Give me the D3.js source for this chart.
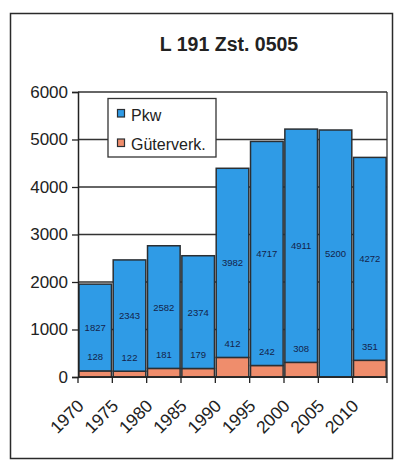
<!DOCTYPE html>
<html><head><meta charset="utf-8">
<script src="https://cdn.jsdelivr.net/npm/d3@7"></script>
<style>body{margin:0;background:#fff}svg{display:block}text{font-family:"Liberation Sans",Arial,sans-serif}</style>
</head><body><svg id="c" width="397" height="462"></svg>
<script>
const years = ["1970","1975","1980","1985","1990","1995","2000","2005","2010"];
const pkw = [1827,2343,2582,2374,3982,4717,4911,5200,4272];
const gueter = [128,122,181,179,412,242,308,0,351];
const yTicks = [0,1000,2000,3000,4000,5000,6000];
const seriesNames = ["Pkw","Güterverk."];
const colors = ["#2f9be6","#ef8d6c"];
const title = "L 191 Zst. 0505";

const svg = d3.select("#c");
const L=78,R=387,T=92,B=377;
svg.append("rect").attr("x",0).attr("y",0).attr("width",397).attr("height",462).attr("fill","#fff");
svg.append("rect").attr("x",10.5).attr("y",13.5).attr("width",382).attr("height",445)
  .attr("fill","none").attr("stroke","#2a2a2a").attr("stroke-width",1.5);

svg.append("text").attr("x",229).attr("y",51).attr("text-anchor","middle")
  .attr("font-size",19.5).attr("font-weight","bold").attr("fill","#222").text(title);

const x = d3.scaleBand().domain(years).range([L,R]).paddingInner(0.05).paddingOuter(0.025);
const y = d3.scaleLinear().domain([0,6000]).range([B,T]);

// gridlines
svg.append("g").selectAll("line").data(yTicks).join("line")
  .attr("x1",L).attr("x2",R).attr("y1",d=>y(d)).attr("y2",d=>y(d))
  .attr("stroke","#333").attr("stroke-width",1.3);
// right border
svg.append("line").attr("x1",R).attr("x2",R).attr("y1",T).attr("y2",B).attr("stroke","#333").attr("stroke-width",1.3);

const data = years.map((yr,i)=>({yr,g:gueter[i],p:pkw[i]}));
const bars = svg.append("g");
bars.selectAll("rect.g").data(data.filter(d=>d.g>0)).join("rect").attr("class","g")
  .attr("x",d=>x(d.yr)).attr("width",x.bandwidth())
  .attr("y",d=>y(d.g)).attr("height",d=>y(0)-y(d.g))
  .attr("fill",colors[1]).attr("stroke","#2b2f33").attr("stroke-width",1.5);
bars.selectAll("rect.p").data(data).join("rect").attr("class","p")
  .attr("x",d=>x(d.yr)).attr("width",x.bandwidth())
  .attr("y",d=>y(d.g+d.p)).attr("height",d=>y(d.g)-y(d.g+d.p))
  .attr("fill",colors[0]).attr("stroke","#2b2f33").attr("stroke-width",1.5);

// labels
const lab = svg.append("g").attr("font-size",9.5).attr("fill","#14234a").attr("text-anchor","middle");
lab.selectAll("text.p").data(data).join("text")
  .attr("x",d=>x(d.yr)+x.bandwidth()/2).attr("y",d=>y(d.g+d.p/2)+3.5).text(d=>d.p);
lab.selectAll("text.g").data(data.filter(d=>d.g>0)).join("text")
  .attr("x",d=>x(d.yr)+x.bandwidth()/2).attr("y",d=>y(d.g)-14+3.5).text(d=>d.g);

// y axis
const ya = svg.append("g").attr("transform",`translate(${L},0)`)
  .call(d3.axisLeft(y).tickValues(yTicks).tickSize(6).tickPadding(4).tickFormat(d3.format("d")));
ya.select(".domain").attr("stroke","#222").attr("stroke-width",1.5);
ya.selectAll(".tick line").attr("stroke","#222").attr("stroke-width",1.3);
ya.selectAll("text").attr("font-size",17).attr("fill","#222").attr("font-family","Liberation Sans, Arial, sans-serif");

// x axis baseline and ticks at band boundaries
const step = x.step();
const bounds = d3.range(years.length+1).map(i=>L+i*step);
svg.append("line").attr("x1",L).attr("x2",R).attr("y1",B).attr("y2",B).attr("stroke","#222").attr("stroke-width",1.5);
svg.append("g").selectAll("line").data(bounds).join("line")
  .attr("x1",d=>d).attr("x2",d=>d).attr("y1",B).attr("y2",B+6).attr("stroke","#222").attr("stroke-width",1.3);
svg.append("g").selectAll("text").data(years).join("text")
  .attr("transform",(d,i)=>`translate(${bounds[i]+7},${B+30}) rotate(-45)`)
  .attr("text-anchor","end").attr("font-size",17.5).attr("fill","#222").text(d=>d);

// legend
const lg = svg.append("g");
lg.append("rect").attr("x",108).attr("y",98.5).attr("width",108).attr("height",58.5)
  .attr("fill","#fff").attr("stroke","#333").attr("stroke-width",1.3);
seriesNames.forEach((n,i)=>{
  const yy = 109.5 + i*29.5;
  lg.append("rect").attr("x",117.5).attr("y",yy).attr("width",7).attr("height",7.5)
    .attr("fill",colors[i]).attr("stroke","#2b2f33").attr("stroke-width",1.2);
  lg.append("text").attr("x",131).attr("y",yy+11).attr("font-size",16).attr("fill","#222").text(n);
});
</script></body></html>
